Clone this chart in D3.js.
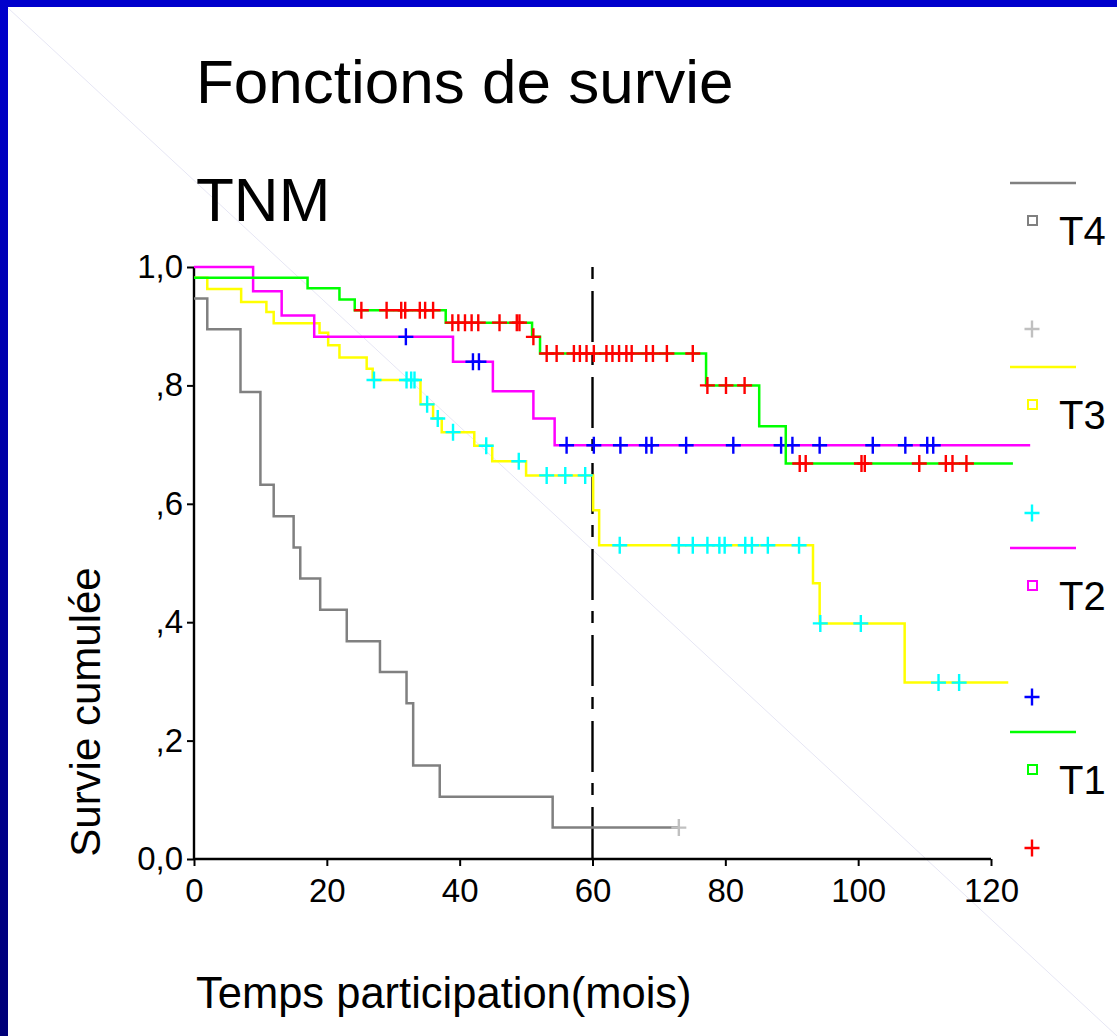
<!DOCTYPE html>
<html>
<head>
<meta charset="utf-8">
<script src="https://cdn.jsdelivr.net/npm/d3@7/dist/d3.min.js"></script>
<style>
  html, body { margin: 0; padding: 0; background: #fff; }
  svg { display: block; font-family: "Liberation Sans", Arial, sans-serif; }
</style>
</head>
<body>
<div id="chart"></div>
<script>
// Tick labels
const xTicks = [0, 20, 40, 60, 80, 100, 120];
const yTicks = [0, 0.2, 0.4, 0.6, 0.8, 1.0];
const yTickLabels = ['0,0', ',2', ',4', ',6', ',8', '1,0'];

// T4 (step start times / survival after step)
const t4Times = [0, 2, 7, 10, 12, 15, 16, 19, 23, 28, 32, 33, 37, 54];
const t4Surv = [0.947, 0.895, 0.789, 0.632, 0.579, 0.526, 0.474, 0.421, 0.368, 0.316, 0.263, 0.158, 0.105, 0.053];
const t4Censored = [73];
const t4End = 73;

// T3
const t3Times = [0, 2, 7.1, 10.9, 12, 18.9, 20.2, 21.9, 26, 26.9, 34.1, 36, 37.3, 42.2, 44.9, 50, 60.1, 61, 93.2, 94.2, 107];
const t3Surv = [0.982, 0.963, 0.941, 0.924, 0.905, 0.889, 0.868, 0.847, 0.828, 0.809, 0.768, 0.744, 0.721, 0.698, 0.672, 0.648, 0.589, 0.53, 0.466, 0.398, 0.298];
const t3Censored = [27.1, 32, 32.7, 33.2, 35.1, 36.7, 39, 44, 48.9, 53.1, 55.9, 58.9, 64.1, 73, 75.1, 77.3, 79.1, 79.9, 83, 84, 86.4, 91.1, 94.3, 100.4, 112.1, 115.2];
const t3End = 122.6;

// T2
const t2Times = [0, 8.9, 13.2, 18.1, 39, 45, 51.1, 54.3];
const t2Surv = [1.0, 0.959, 0.918, 0.882, 0.84, 0.79, 0.744, 0.699];
const t2Censored = [31.9, 42, 42.9, 56.1, 60.2, 64.2, 68.1, 68.9, 74.1, 81.2, 88.4, 90.1, 94.2, 102.2, 107.1, 110.4, 111.3];
const t2End = 125.9;

// T1
const t1Times = [0, 17.1, 21.9, 24.2, 37.9, 50.9, 52.1, 77.1, 85.1, 89.1];
const t1Surv = [0.982, 0.964, 0.945, 0.927, 0.906, 0.882, 0.854, 0.8, 0.731, 0.668];
const t1Censored = [25.2, 29, 31.2, 31.8, 34, 34.8, 36, 38.9, 39.8, 40.8, 41.8, 42.8, 46, 48.6, 49, 51.1, 53.1, 54.6, 57.2, 58.1, 59.1, 60.2, 62.1, 63, 64, 65.1, 65.9, 68.1, 69.1, 71.2, 75.1, 77.3, 80.1, 82.9, 91.2, 92.1, 100.5, 101, 109.2, 113.2, 114.2, 116.3];
const t1End = 123.3;

const groups = [
  { name: 'T4', times: t4Times, surv: t4Surv, censored: t4Censored, end: t4End, line: '#808080', mark: '#c0c0c0' },
  { name: 'T3', times: t3Times, surv: t3Surv, censored: t3Censored, end: t3End, line: '#ffff00', mark: '#00ffff' },
  { name: 'T2', times: t2Times, surv: t2Surv, censored: t2Censored, end: t2End, line: '#ff00ff', mark: '#0000ff' },
  { name: 'T1', times: t1Times, surv: t1Surv, censored: t1Censored, end: t1End, line: '#00ff00', mark: '#ff0000' },
];

const W = 1117, H = 1036;
const margin = { top: 267, left: 194, right: W - 991, bottom: H - 859 };
const width = W - margin.left - margin.right;
const height = H - margin.top - margin.bottom;

// Legend layout (rows are not evenly spaced in the original)
const legendRowY = [183, 367, 548, 732];
const legendCrossY = [329, 513, 697, 848];

const x = d3.scaleLinear().domain([0, 120]).range([0, width]);
const y = d3.scaleLinear().domain([0, 1]).range([height, 0]);

const root = d3.select('#chart').append('svg').attr('width', W).attr('height', H);

// Frame
const defs = root.append('defs');
const grad = defs.append('linearGradient').attr('id', 'side').attr('x1', 0).attr('y1', 0).attr('x2', 0).attr('y2', 1);
grad.append('stop').attr('offset', '0%').attr('stop-color', '#0000cc');
grad.append('stop').attr('offset', '100%').attr('stop-color', '#000078');

root.append('rect').attr('width', W).attr('height', H).attr('fill', '#fff');
root.append('line')
  .attr('x1', 8).attr('y1', 8).attr('x2', W).attr('y2', H)
  .attr('stroke', '#e6e6f4').attr('stroke-width', 1);
root.append('rect').attr('x', 0).attr('y', 0).attr('width', W).attr('height', 7).attr('fill', '#0000cc');
root.append('rect').attr('x', 0).attr('y', 0).attr('width', 8).attr('height', H).attr('fill', 'url(#side)');

// Titles
root.append('text').attr('x', 196).attr('y', 103).attr('font-size', 62).text('Fonctions de survie');
root.append('text').attr('x', 196).attr('y', 221).attr('font-size', 62).text('TNM');
root.append('text').attr('x', 196).attr('y', 1008).attr('font-size', 43.5).text('Temps participation(mois)');
root.append('text')
  .attr('transform', 'translate(100,712) rotate(-90)')
  .attr('text-anchor', 'middle')
  .attr('font-size', 42)
  .text('Survie cumulée');

const svg = root.append('g').attr('transform', `translate(${margin.left},${margin.top})`);

// Axes
const xAxis = d3.axisBottom(x).tickValues(xTicks).tickSize(7).tickPadding(10).tickFormat(d3.format('d'));
const xAxisDraw = svg.append('g').attr('transform', `translate(0,${height})`).call(xAxis);
const yAxis = d3.axisLeft(y).tickValues(yTicks).tickSize(7).tickPadding(4).tickFormat((d, i) => yTickLabels[i]);
const yAxisDraw = svg.append('g').call(yAxis);

[xAxisDraw, yAxisDraw].forEach(a => {
  a.select('.domain').attr('stroke', '#000').attr('stroke-width', 2.4);
  a.selectAll('.tick line').attr('stroke', '#000').attr('stroke-width', 2);
  a.selectAll('text').attr('font-size', 33).attr('fill', '#000').attr('font-family', '"Liberation Sans", Arial, sans-serif');
});
xAxisDraw.selectAll('text').attr('dy', '0.8em');
yAxisDraw.selectAll('.domain').attr('d', `M0,${height}V0`);
xAxisDraw.selectAll('.domain').attr('d', `M0,0H${width}`);

// Reference line at 60 months
svg.append('line')
  .attr('x1', x(60)).attr('x2', x(60))
  .attr('y1', 0).attr('y2', height)
  .attr('stroke', '#000').attr('stroke-width', 2.4)
  .attr('stroke-dasharray', '12,12,51,11');

// Survival curves
const stepLine = d3.line().x(d => x(d[0])).y(d => y(d[1])).curve(d3.curveStepAfter);

function survAt(g, t) {
  let s = g.surv[0];
  g.times.forEach((tt, i) => { if (tt <= t) s = g.surv[i]; });
  return s;
}

function crossPath(cx, cy, hw, hh) {
  return `M${cx - hw},${cy}H${cx + hw}M${cx},${cy - hh}V${cy + hh}`;
}

groups.forEach(g => {
  const pts = g.times.map((t, i) => [t, g.surv[i]]);
  pts.push([g.end, g.surv[g.surv.length - 1]]);
  svg.append('path')
    .datum(pts)
    .attr('d', stepLine)
    .attr('fill', 'none')
    .attr('stroke', g.line)
    .attr('stroke-width', 2.5);

  svg.selectAll(null)
    .data(g.censored)
    .enter()
    .append('path')
    .attr('d', t => crossPath(x(t), y(survAt(g, t)), 7.5, 8.5))
    .attr('stroke', g.mark)
    .attr('stroke-width', 2.4)
    .attr('fill', 'none');
});

// Legend
groups.forEach((g, i) => {
  const row = root.append('g').attr('transform', `translate(1010,${legendRowY[i]})`);
  row.append('line').attr('x1', 0).attr('x2', 66).attr('y1', 0).attr('y2', 0)
    .attr('stroke', g.line).attr('stroke-width', 2.5);
  row.append('rect').attr('x', 18).attr('y', 33).attr('width', 9).attr('height', 9)
    .attr('fill', 'none').attr('stroke', g.line).attr('stroke-width', 2);
  row.append('text').attr('x', 49).attr('y', 62).attr('font-size', 40).text(g.name);
  root.append('path').attr('d', crossPath(1032, legendCrossY[i], 7.5, 8.5))
    .attr('stroke', g.mark).attr('stroke-width', 2.4).attr('fill', 'none');
});
</script>
</body>
</html>
